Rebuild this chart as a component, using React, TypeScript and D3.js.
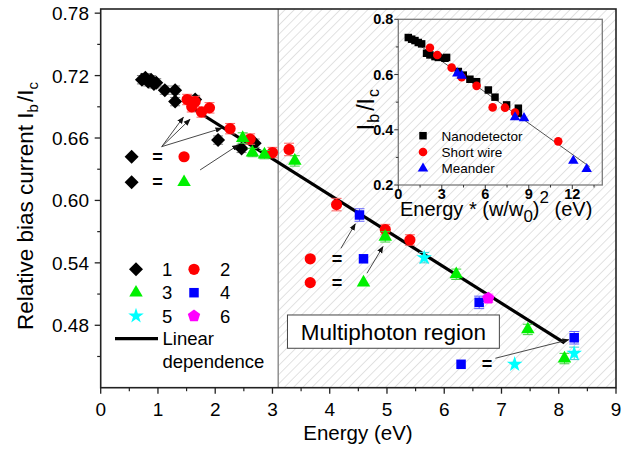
import React from "react";
import * as d3 from "d3";

// ---------- main plot data ----------
const s1E = [0.72, 0.78, 0.83, 0.88, 0.93, 0.97, 1.12, 1.3, 1.3, 1.65, 2.05, 2.46, 2.69];
const s1V = [0.716, 0.718, 0.714, 0.716, 0.712, 0.713, 0.706, 0.706, 0.695, 0.697, 0.658, 0.65, 0.655];
const s1Err = [0.004, 0.004, 0.004, 0.004, 0.004, 0.004, 0.004, 0.004, 0.004, 0.004, 0.004, 0.004, 0.004];

const s2E = [1.51, 1.59, 1.65, 1.76, 1.9, 2.26, 2.61, 3.0, 3.29, 4.12, 4.97, 5.4];
const s2V = [0.697, 0.69, 0.695, 0.685, 0.689, 0.669, 0.659, 0.646, 0.649, 0.596, 0.572, 0.562];
const s2Err = [0.005, 0.005, 0.005, 0.005, 0.005, 0.005, 0.005, 0.005, 0.006, 0.006, 0.005, 0.005];

const s3E = [2.48, 2.65, 2.86, 3.39, 4.97, 6.21, 7.46, 8.1];
const s3V = [0.66, 0.646, 0.644, 0.638, 0.565, 0.529, 0.476, 0.448];
const s3Err = [0.005, 0.004, 0.004, 0.005, 0.005, 0.005, 0.005, 0.005];

const s4E = [4.52, 6.61, 8.27];
const s4V = [0.586, 0.502, 0.468];
const s4Err = [0.006, 0.006, 0.006];

const s5E = [5.65, 8.27];
const s5V = [0.545, 0.453];
const s5Err = [0.005, 0.006];

const s6E = [6.77];
const s6V = [0.506];
const s6Err = [0.004];

const fitE = [1.6, 8.1];
const fitV = [0.6886, 0.463];

const xTicks = [0, 1, 2, 3, 4, 5, 6, 7, 8, 9];
const yTicks = [0.48, 0.54, 0.6, 0.66, 0.72, 0.78];
const multiphotonStart = 3.1;

// ---------- inset data ----------
const nanoX = [0.69, 0.92, 1.15, 1.38, 1.61, 1.95, 2.18, 2.53, 2.76, 3.22, 3.33, 4.14, 4.48, 4.94, 5.4, 6.21, 6.67, 7.47, 8.28, 8.28];
const nanoY = [0.734, 0.728, 0.723, 0.716, 0.711, 0.677, 0.671, 0.665, 0.662, 0.659, 0.662, 0.611, 0.598, 0.583, 0.574, 0.544, 0.518, 0.49, 0.478, 0.46];
const wireX = [2.18, 2.69, 3.68, 4.37, 5.4, 6.51, 7.36, 8.05, 11.03];
const wireY = [0.697, 0.671, 0.625, 0.59, 0.559, 0.481, 0.48, 0.462, 0.358];
const meanderX = [4.07, 4.37, 8.05, 8.67, 12.07, 12.99];
const meanderY = [0.604, 0.596, 0.445, 0.442, 0.288, 0.258];
const insetFitX = [0.5, 13.2];
const insetFitY = [0.742, 0.266];
const insetXTicks = [0, 3, 6, 9, 12];
const insetYTicks = [0.2, 0.4, 0.6, 0.8];

const FONT = "'Liberation Sans', Arial, Helvetica, sans-serif";
const GREEN = "#00f000";

const x = d3.scaleLinear().domain([0, 9]).range([100.7, 616]);
const y = d3.scaleLinear().domain([0.42, 0.784]).range([387.7, 9]);
const ix = d3.scaleLinear().domain([0, 14.07]).range([398.3, 602.3]);
const iy = d3.scaleLinear().domain([0.2, 0.8]).range([185, 19.3]);

// marker paths
const diamond = (r: number) => `M0,${-r}L${r},0L0,${r}L${-r},0Z`;
const square = (s: number) => `M${-s / 2},${-s / 2}h${s}v${s}h${-s}Z`;
const triangle = (w: number) => {
  const h = w * 0.866;
  return `M0,${(-2 * h) / 3}L${w / 2},${h / 3}L${-w / 2},${h / 3}Z`;
};
const star = (size: number) => d3.symbol(d3.symbolStar, size)() as string;
const pentagon = (r: number) => {
  const pts = d3.range(5).map((i) => {
    const a = -Math.PI / 2 + (i * 2 * Math.PI) / 5;
    return [r * Math.cos(a), r * Math.sin(a)];
  });
  return "M" + pts.map((p) => p.join(",")).join("L") + "Z";
};
const circlePath = (r: number) => `M${-r},0a${r},${r} 0 1,0 ${2 * r},0a${r},${r} 0 1,0 ${-2 * r},0Z`;

type Series = { E: number[]; V: number[]; err: number[]; color: string; errColor: string; path: string };
const series: Series[] = [
  { E: s1E, V: s1V, err: s1Err, color: "#000000", errColor: "#808080", path: diamond(7) },
  { E: s2E, V: s2V, err: s2Err, color: "#ff0000", errColor: "#ff6060", path: circlePath(5.6) },
  { E: s3E, V: s3V, err: s3Err, color: GREEN, errColor: "#40d040", path: triangle(13.5) },
  { E: s4E, V: s4V, err: s4Err, color: "#0000ff", errColor: "#6060ff", path: square(9.5) },
  { E: s5E, V: s5V, err: s5Err, color: "#00ffff", errColor: "#40d0d0", path: star(75) },
  { E: s6E, V: s6V, err: s6Err, color: "#ff00ff", errColor: "#ff60ff", path: pentagon(6.5) },
];

export default function App() {
  const x0 = x(0), x1 = x(9), yTop = 9, yBot = 387.7;
  const minorX = d3.range(0.5, 9, 1);
  const minorY = [0.45, 0.51, 0.57, 0.63, 0.69, 0.75];
  const lineGen = d3.line<number>().x((_, i) => x(fitE[i])).y((d) => y(d));
  const insetLine = d3.line<number>().x((_, i) => ix(insetFitX[i])).y((d) => iy(d));

  const arrow = (e0: number, v0: number, e1: number, v1: number, key: string) => (
    <line key={key} x1={x(e0)} y1={y(v0)} x2={x(e1)} y2={y(v1)} stroke="#333" strokeWidth={0.9} markerEnd="url(#arrowhead)" />
  );
  const eqRow = (e: number, v: number, key: string) => (
    <text key={key} x={x(e)} y={y(v) + 6} fontSize={18} fontFamily={FONT} textAnchor="middle" fontWeight="bold">=</text>
  );

  return (
    <svg width={632} height={450} style={{ position: "absolute", left: 0, top: 0, background: "#fff" }} fontFamily={FONT}>
      <defs>
        <pattern id="hatch" patternUnits="userSpaceOnUse" width={6.5} height={6.5} patternTransform="rotate(45)">
          <line x1={0} y1={0} x2={0} y2={6.5} stroke="#c0c0c0" strokeWidth={0.9} />
        </pattern>
        <marker id="arrowhead" viewBox="0 0 10 10" refX={9} refY={5} markerWidth={7} markerHeight={7} orient="auto" markerUnits="userSpaceOnUse">
          <path d="M0,1L10,5L0,9Z" fill="#111" />
        </marker>
      </defs>
      <rect x={0} y={0} width={632} height={450} fill="#fff" />
      {/* hatched multiphoton region */}
      <rect x={x(multiphotonStart)} y={yTop} width={x1 - x(multiphotonStart)} height={yBot - yTop} fill="url(#hatch)" />
      <line x1={x(multiphotonStart)} x2={x(multiphotonStart)} y1={yTop} y2={yBot} stroke="#808080" strokeWidth={1.3} />

      {/* fit line */}
      <path d={lineGen(fitV) as string} stroke="#000" strokeWidth={3.2} fill="none" />

      {/* error bars + markers */}
      {series.map((s, si) => (
        <g key={"s" + si}>
          {s.E.map((e, i) => (
            <g key={i} stroke={s.errColor} strokeWidth={1}>
              <line x1={x(e)} x2={x(e)} y1={y(s.V[i] - s.err[i])} y2={y(s.V[i] + s.err[i])} />
              <line x1={x(e) - 5} x2={x(e) + 5} y1={y(s.V[i] - s.err[i])} y2={y(s.V[i] - s.err[i])} />
              <line x1={x(e) - 5} x2={x(e) + 5} y1={y(s.V[i] + s.err[i])} y2={y(s.V[i] + s.err[i])} />
            </g>
          ))}
          {s.E.map((e, i) => (
            <path key={"m" + i} d={s.path} transform={`translate(${x(e)},${y(s.V[i])})`} fill={s.color} />
          ))}
        </g>
      ))}

      {/* annotations: upper-left */}
      <path d={diamond(7)} transform={`translate(${x(0.54)},${y(0.642)})`} fill="#000" />
      {eqRow(0.99, 0.642, "eq1")}
      <path d={circlePath(5.6)} transform={`translate(${x(1.456)},${y(0.642)})`} fill="#ff0000" />
      <path d={diamond(7)} transform={`translate(${x(0.54)},${y(0.6175)})`} fill="#000" />
      {eqRow(0.99, 0.6175, "eq2")}
      <path d={triangle(13.5)} transform={`translate(${x(1.456)},${y(0.6175)})`} fill={GREEN} />
      {arrow(1.066, 0.6517, 1.444, 0.68, "a1")}
      {arrow(1.066, 0.6517, 1.561, 0.678, "a2")}
      {arrow(1.066, 0.6517, 2.115, 0.6694, "a3")}
      {arrow(1.736, 0.6293, 2.406, 0.6534, "a4")}

      {/* annotations: middle */}
      <path d={circlePath(5.6)} transform={`translate(${x(3.66)},${y(0.5439)})`} fill="#ff0000" />
      {eqRow(4.126, 0.5439, "eq3")}
      <path d={square(9.5)} transform={`translate(${x(4.59)},${y(0.5439)})`} fill="#0000ff" />
      <path d={circlePath(5.6)} transform={`translate(${x(3.66)},${y(0.521)})`} fill="#ff0000" />
      {eqRow(4.126, 0.521, "eq4")}
      <path d={triangle(13.5)} transform={`translate(${x(4.59)},${y(0.521)})`} fill={GREEN} />
      {arrow(4.196, 0.554, 4.446, 0.5774, "a5")}
      {arrow(4.65, 0.53, 4.93, 0.5556, "a6")}

      {/* annotations: lower-right */}
      <path d={square(9.5)} transform={`translate(${x(6.294)},${y(0.4425)})`} fill="#0000ff" />
      {eqRow(6.748, 0.4425, "eq5")}
      <path d={star(75)} transform={`translate(${x(7.23)},${y(0.4425)})`} fill="#00ffff" />
      {arrow(6.893, 0.4483, 8.175, 0.4661, "a7")}

      {/* multiphoton box */}
      <rect x={x(3.262)} y={y(0.4899)} width={x(6.963) - x(3.262)} height={y(0.4579) - y(0.4899)} fill="#fff" stroke="#444" strokeWidth={1} />
      <text x={(x(3.262) + x(6.963)) / 2} y={y(0.4739) + 8} fontSize={22.5} textAnchor="middle" fill="#000">Multiphoton region</text>

      {/* main legend */}
      <g fontSize={18.5} fill="#000">
        <path d={diamond(7)} transform="translate(136,269.3)" fill="#000" />
        <text x={162} y={276}>1</text>
        <path d={circlePath(5.6)} transform="translate(194,269.3)" fill="#ff0000" />
        <text x={220} y={276}>2</text>
        <path d={triangle(13.5)} transform="translate(136,292.7)" fill={GREEN} />
        <text x={162} y={299.4}>3</text>
        <path d={square(9.5)} transform="translate(194,292.7)" fill="#0000ff" />
        <text x={220} y={299.4}>4</text>
        <path d={star(75)} transform="translate(136,316)" fill="#00ffff" />
        <text x={162} y={322.7}>5</text>
        <path d={pentagon(6.5)} transform="translate(194,316)" fill="#ff00ff" />
        <text x={220} y={322.7}>6</text>
        <line x1={115} x2={158} y1={338.7} y2={338.7} stroke="#000" strokeWidth={3.2} />
        <text x={162.5} y={345.4}>Linear</text>
        <text x={162.5} y={368.4}>dependence</text>
      </g>

      {/* ---------- inset ---------- */}
      <path d={insetLine(insetFitY) as string} stroke="#555" strokeWidth={1} fill="none" />
      {nanoX.map((v, i) => (
        <path key={"n" + i} d={square(7.5)} transform={`translate(${ix(v)},${iy(nanoY[i])})`} fill="#000" />
      ))}
      {wireX.map((v, i) => (
        <path key={"w" + i} d={circlePath(4.3)} transform={`translate(${ix(v)},${iy(wireY[i])})`} fill="#ff0000" />
      ))}
      {meanderX.map((v, i) => (
        <path key={"me" + i} d={triangle(10.5)} transform={`translate(${ix(v)},${iy(meanderY[i])})`} fill="#0000ff" />
      ))}
      <rect x={ix(0)} y={iy(0.8)} width={ix(14.07) - ix(0)} height={iy(0.2) - iy(0.8)} fill="none" stroke="#7a7a7a" strokeWidth={1.3} />
      {insetYTicks.map((t) => (
        <g key={"iyt" + t}>
          <line x1={ix(0) - 4} x2={ix(0)} y1={iy(t)} y2={iy(t)} stroke="#333" strokeWidth={1} />
          <text x={ix(0) - 5} y={iy(t) + 5} fontSize={14.5} fontWeight="bold" textAnchor="end">{t.toFixed(1)}</text>
        </g>
      ))}
      {[0.3, 0.5, 0.7].map((t) => (
        <line key={"iym" + t} x1={ix(0) - 2.5} x2={ix(0)} y1={iy(t)} y2={iy(t)} stroke="#333" strokeWidth={1} />
      ))}
      {insetXTicks.map((t) => (
        <g key={"ixt" + t}>
          <line x1={ix(t)} x2={ix(t)} y1={iy(0.2)} y2={iy(0.2) + 4} stroke="#333" strokeWidth={1} />
          <text x={ix(t)} y={iy(0.2) + 14} fontSize={14.5} fontWeight="bold" textAnchor="middle">{t}</text>
        </g>
      ))}
      {[1.5, 4.5, 7.5, 10.5, 13.5].map((t) => (
        <line key={"ixm" + t} x1={ix(t)} x2={ix(t)} y1={iy(0.2)} y2={iy(0.2) + 2.5} stroke="#333" strokeWidth={1} />
      ))}
      <text transform={`translate(${374},${iy(0.5) + 28}) rotate(-90)`} fontSize={23}>
        I<tspan fontSize={16} dy={5} dx={1}>b</tspan><tspan dy={-5} dx={3}>/I</tspan><tspan fontSize={16} dy={5} dx={1}>c</tspan>
      </text>
      <text x={400} y={216} fontSize={20}>
        Energy * (w/w<tspan fontSize={17} dy={6}>0</tspan><tspan dy={-6}>)</tspan><tspan fontSize={17} dy={-13}>2</tspan><tspan dy={13}> (eV)</tspan>
      </text>
      {/* inset legend */}
      <g fontSize={13.5}>
        <path d={square(7.5)} transform="translate(423,135.7)" fill="#000" />
        <text x={441.5} y={140.5}>Nanodetector</text>
        <path d={circlePath(4.3)} transform="translate(423,152)" fill="#ff0000" />
        <text x={441.5} y={156.8}>Short wire</text>
        <path d={triangle(10.5)} transform="translate(423,168.5)" fill="#0000ff" />
        <text x={441.5} y={173.3}>Meander</text>
      </g>

      {/* ---------- main axes ---------- */}
      <rect x={x0} y={yTop} width={x1 - x0} height={yBot - yTop} fill="none" stroke="#222" strokeWidth={1.6} />
      {xTicks.map((t) => (
        <g key={"xt" + t}>
          <line x1={x(t)} x2={x(t)} y1={yBot} y2={yBot + 6} stroke="#222" strokeWidth={1.3} />
          <text x={x(t)} y={416} fontSize={19} textAnchor="middle">{t}</text>
        </g>
      ))}
      {minorX.map((t) => (
        <line key={"xm" + t} x1={x(t)} x2={x(t)} y1={yBot} y2={yBot + 3.5} stroke="#222" strokeWidth={1.2} />
      ))}
      {yTicks.map((t) => (
        <g key={"yt" + t}>
          <line x1={x0 - 6} x2={x0} y1={y(t)} y2={y(t)} stroke="#222" strokeWidth={1.3} />
          <text x={89} y={y(t) + 7} fontSize={19} textAnchor="end">{t.toFixed(2)}</text>
        </g>
      ))}
      {minorY.map((t) => (
        <line key={"ym" + t} x1={x0 - 3.5} x2={x0} y1={y(t)} y2={y(t)} stroke="#222" strokeWidth={1.2} />
      ))}
      <text x={358} y={440} fontSize={20.5} textAnchor="middle">Energy (eV)</text>
      <text transform="translate(33,206) rotate(-90)" fontSize={22.5} textAnchor="middle">
        Relative bias current I<tspan fontSize={15} dy={5}>b</tspan><tspan dy={-5} dx={2}>/I</tspan><tspan fontSize={15} dy={5}>c</tspan>
      </text>
    </svg>
  );
}
